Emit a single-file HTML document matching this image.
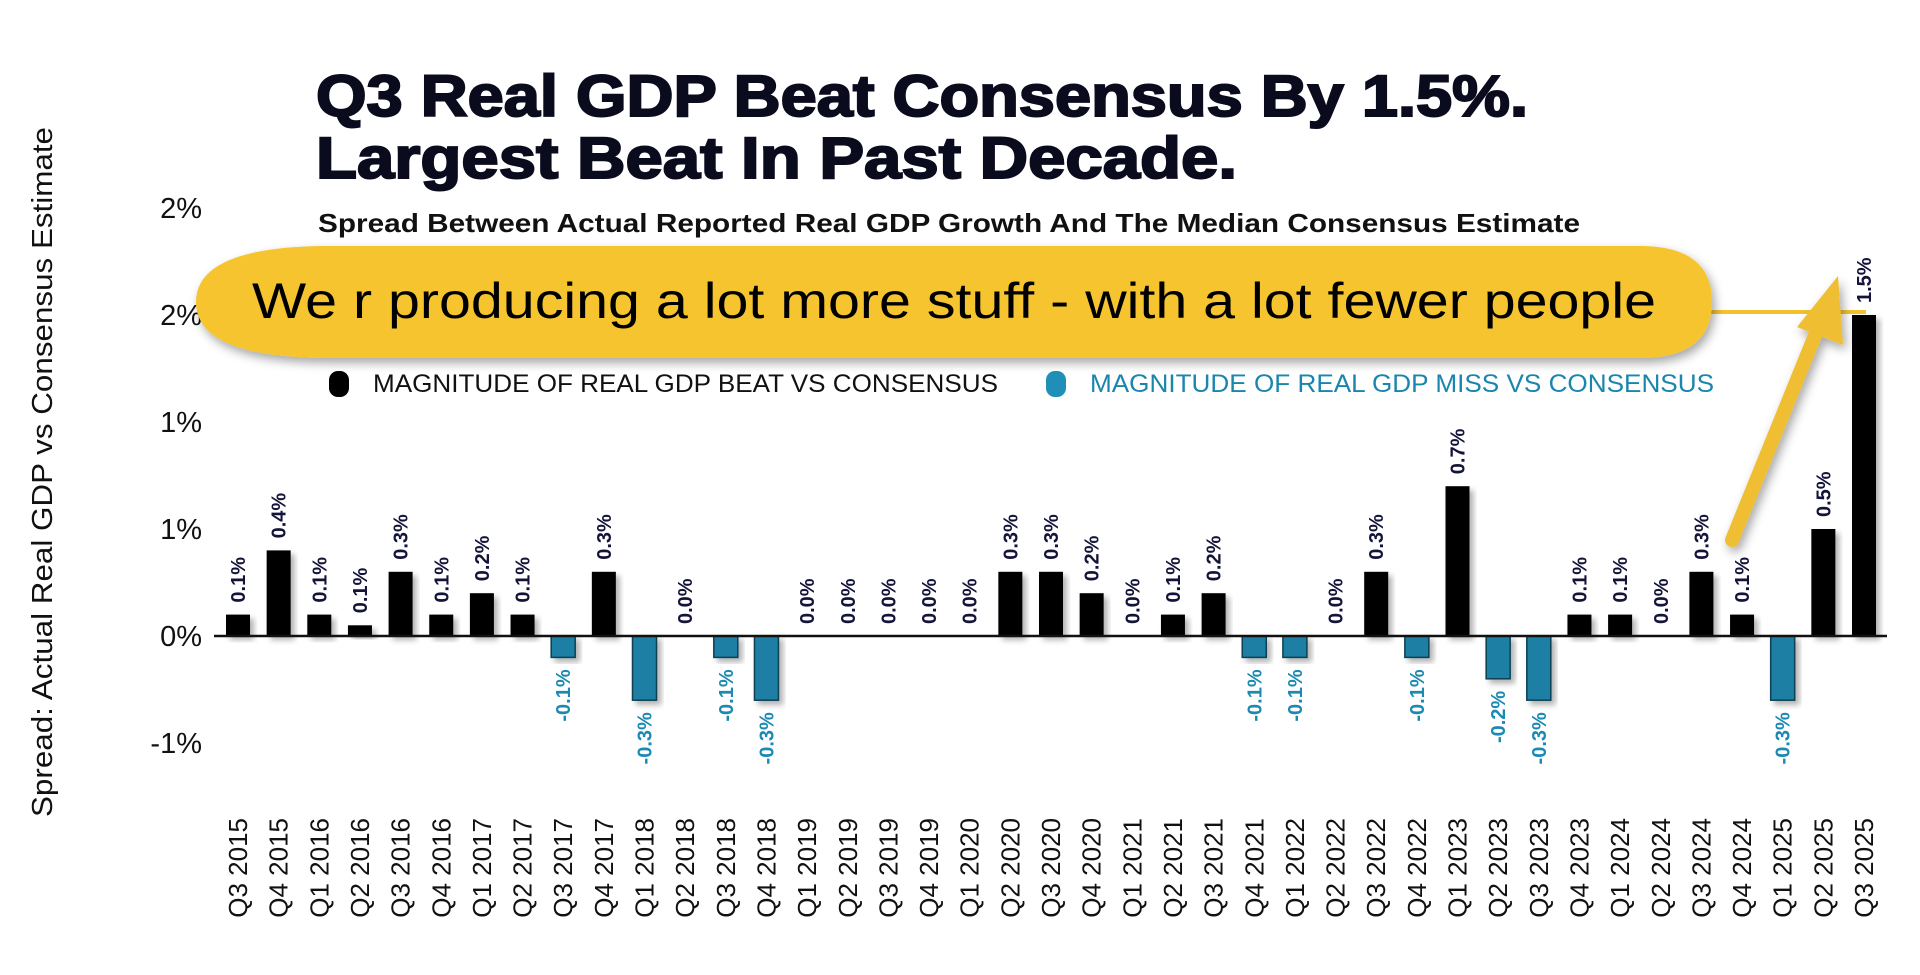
<!DOCTYPE html>
<html><head><meta charset="utf-8"><style>
body{margin:0;background:#fff;width:1920px;height:975px;overflow:hidden;font-family:"Liberation Sans",sans-serif}
svg{display:block}
</style></head><body>
<svg id="chart" width="1920" height="975">
<defs>
<filter id="sh" x="-30%" y="-30%" width="160%" height="160%"><feDropShadow dx="4" dy="4" stdDeviation="3" flood-color="#000" flood-opacity="0.3"/></filter>
<filter id="sh2" x="-10%" y="-30%" width="120%" height="160%"><feDropShadow dx="3" dy="5" stdDeviation="5" flood-color="#000" flood-opacity="0.35"/></filter>
</defs>
<g font-weight="bold" fill="#0b0b1e">
<text x="316" y="116" font-size="58" textLength="1212" lengthAdjust="spacingAndGlyphs" stroke="#0b0b1e" stroke-width="2">Q3 Real GDP Beat Consensus By 1.5%.</text>
<text x="316" y="178" font-size="58" textLength="921" lengthAdjust="spacingAndGlyphs" stroke="#0b0b1e" stroke-width="2">Largest Beat In Past Decade.</text>
</g>
<text x="318" y="232" font-size="26" font-weight="bold" fill="#111" textLength="1262" lengthAdjust="spacingAndGlyphs">Spread Between Actual Reported Real GDP Growth And The Median Consensus Estimate</text>
<text transform="translate(52,472) rotate(-90)" text-anchor="middle" font-size="29" fill="#111" textLength="690" lengthAdjust="spacingAndGlyphs">Spread: Actual Real GDP vs Consensus Estimate</text>
<g id="yticks"></g>
<g id="bars"></g>
<g>
<rect x="329" y="371" width="20" height="26" rx="9" fill="#000"/>
<text x="373" y="392" font-size="25" fill="#111" textLength="625" lengthAdjust="spacingAndGlyphs">MAGNITUDE OF REAL GDP BEAT VS CONSENSUS</text>
<rect x="1046" y="371" width="20" height="26" rx="9" fill="#1f8fb8"/>
<text x="1090" y="392" font-size="25" fill="#1a86ad" textLength="624" lengthAdjust="spacingAndGlyphs">MAGNITUDE OF REAL GDP MISS VS CONSENSUS</text>
</g>
<g>
<line x1="1700" y1="312" x2="1866" y2="312" stroke="#f2c12e" stroke-width="4"/>
<path d="M330,246 L1640,246 Q1712,246 1712,302 Q1712,358 1640,358 L330,358 Q196,358 196,302 Q196,246 330,246 Z" fill="#f5c42f" filter="url(#sh2)"/>
<text x="252" y="318" font-size="50" fill="#000" textLength="1404" lengthAdjust="spacingAndGlyphs">We r producing a lot more stuff - with a lot fewer people</text>
<g filter="url(#sh2)">
<line x1="1732" y1="540" x2="1822" y2="318" stroke="#f0be30" stroke-width="14" stroke-linecap="round"/>
<polygon points="1838,276 1843,345 1797,327" fill="#f0be30"/>
</g>
</g>
</svg>
<script>
const categories=["Q3 2015","Q4 2015","Q1 2016","Q2 2016","Q3 2016","Q4 2016","Q1 2017","Q2 2017","Q3 2017","Q4 2017","Q1 2018","Q2 2018","Q3 2018","Q4 2018","Q1 2019","Q2 2019","Q3 2019","Q4 2019","Q1 2020","Q2 2020","Q3 2020","Q4 2020","Q1 2021","Q2 2021","Q3 2021","Q4 2021","Q1 2022","Q2 2022","Q3 2022","Q4 2022","Q1 2023","Q2 2023","Q3 2023","Q4 2023","Q1 2024","Q2 2024","Q3 2024","Q4 2024","Q1 2025","Q2 2025","Q3 2025"];
const values=[0.1,0.4,0.1,0.05,0.3,0.1,0.2,0.1,-0.1,0.3,-0.3,0,-0.1,-0.3,0,0,0,0,0,0.3,0.3,0.2,0,0.1,0.2,-0.1,-0.1,0,0.3,-0.1,0.7,-0.2,-0.3,0.1,0.1,0,0.3,0.1,-0.3,0.5,1.5];
const valueLabels=["0.1%","0.4%","0.1%","0.1%","0.3%","0.1%","0.2%","0.1%","-0.1%","0.3%","-0.3%","0.0%","-0.1%","-0.3%","0.0%","0.0%","0.0%","0.0%","0.0%","0.3%","0.3%","0.2%","0.0%","0.1%","0.2%","-0.1%","-0.1%","0.0%","0.3%","-0.1%","0.7%","-0.2%","-0.3%","0.1%","0.1%","0.0%","0.3%","0.1%","-0.3%","0.5%","1.5%"];
const tickValues=[2,1.5,1,0.5,0,-0.5];
const tickLabels=["2%","2%","1%","1%","0%","-1%"];
const NS="http://www.w3.org/2000/svg";
const y0=636, pxPer=214, x0=238, step=40.65, bw=24;
const yS=v=>y0-v*pxPer;
const xS=i=>x0+i*step;
function mk(t,a){const e=document.createElementNS(NS,t);for(const k in a)e.setAttribute(k,a[k]);return e;}
const yt=document.getElementById('yticks');
tickValues.forEach((v,i)=>{
 const t=mk('text',{x:202,y:yS(v)+10,'text-anchor':'end','font-size':29,fill:'#111'});
 
 
 t.textContent=tickLabels[i];yt.appendChild(t);
});
const g=document.getElementById('bars');
values.forEach((v,i)=>{
 const cx=xS(i);
 if(v!==0){
  const top=Math.min(yS(v),y0),h=Math.abs(yS(v)-y0);
  const r=mk('rect',{x:cx-bw/2,y:top,width:bw,height:h,fill:v>0?'#000':'#1b7fa3',stroke:v>0?'none':'#0d3f52','stroke-width':1.5,filter:'url(#sh)'});
  
  
  g.appendChild(r);
 }
 const neg=v<0;
 const ly=neg?yS(v)+12:yS(v)-12;
 const l=mk('text',{transform:`translate(${cx+7},${ly}) rotate(-90)`,'text-anchor':neg?'end':'start','font-size':20,'font-weight':'bold',fill:neg?'#1a8ab3':'#14143a'});
 
 
 l.textContent=valueLabels[i];g.appendChild(l);
 const c=mk('text',{transform:`translate(${cx+9},${818}) rotate(-90)`,'text-anchor':'end','font-size':26,fill:'#111'});
 
 
 c.textContent=categories[i];g.appendChild(c);
});
const ax=mk('line',{x1:214,y1:y0,x2:1887,y2:y0,stroke:'#111','stroke-width':2.5});


g.appendChild(ax);
</script>
</body></html>
